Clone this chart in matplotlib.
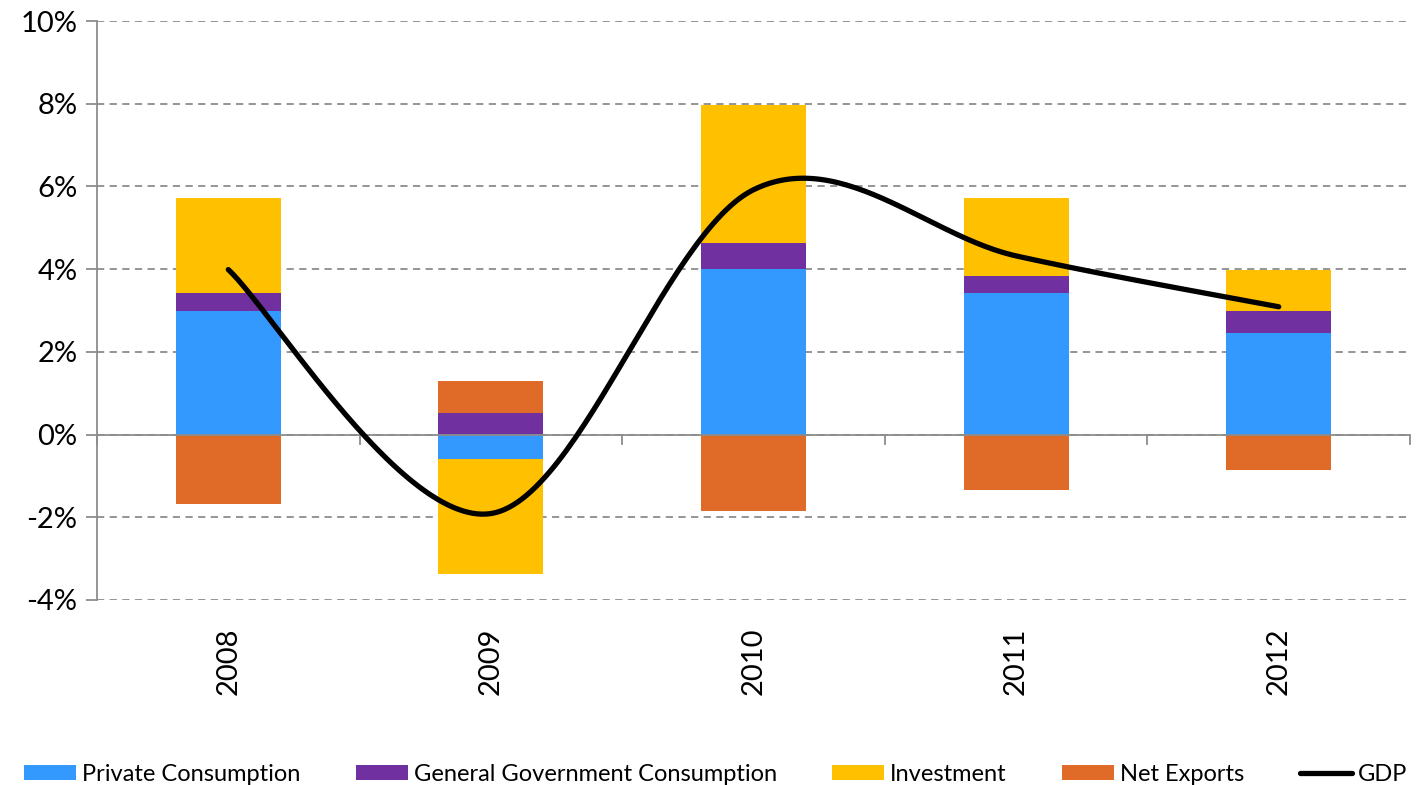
import numpy as np
import matplotlib.pyplot as plt
from matplotlib.ticker import FuncFormatter

plt.rcParams['font.family'] = ['Lato', 'DejaVu Sans']

years = ['2008', '2009', '2010', '2011', '2012']
private = [3.0, -0.58, 4.01, 3.43, 2.46]
government = [0.43, 0.53, 0.63, 0.41, 0.54]
investment = [2.29, -2.78, 3.33, 1.88, 0.99]
net_exports = [-1.67, 0.77, -1.84, -1.33, -0.85]
gdp = [3.99, -1.91, 5.92, 4.32, 3.09]

c_priv = '#3399FF'
c_gov = '#7030A0'
c_inv = '#FFC000'
c_nx = '#E06A27'

fig = plt.figure(figsize=(14.17, 7.85), dpi=100)
ax = fig.add_axes([97 / 1417, 1 - 600 / 785, 1313 / 1417, 579 / 785])

x = np.arange(len(years))
w = 0.4

# stack positives upward and negatives downward from zero
pos = np.zeros(len(years))
neg = np.zeros(len(years))
handles = []
for vals, col, lab in [(private, c_priv, 'Private Consumption'),
                       (government, c_gov, 'General Government Consumption'),
                       (investment, c_inv, 'Investment'),
                       (net_exports, c_nx, 'Net Exports')]:
    vals = np.array(vals)
    base = np.where(vals >= 0, pos, neg)
    b = ax.bar(x, vals, w, bottom=base, color=col, label=lab, zorder=2)
    handles.append(b)
    pos = np.where(vals >= 0, pos + vals, pos)
    neg = np.where(vals < 0, neg + vals, neg)

# smoothed line like Excel (Catmull-Rom style bezier)
def smooth(xs, ys, n=60):
    xs = np.asarray(xs, float)
    ys = np.asarray(ys, float)
    px = np.concatenate([[xs[0]], xs, [xs[-1]]])
    py = np.concatenate([[ys[0]], ys, [ys[-1]]])
    ox, oy = [], []
    t = np.linspace(0, 1, n)
    for i in range(1, len(px) - 2):
        p0 = np.array([px[i], py[i]])
        p3 = np.array([px[i + 1], py[i + 1]])
        p1 = p0 + (p3 - np.array([px[i - 1], py[i - 1]])) / 6
        p2 = p3 - (np.array([px[i + 2], py[i + 2]]) - p0) / 6
        pts = ((1 - t)[:, None] ** 3 * p0 + 3 * ((1 - t) ** 2 * t)[:, None] * p1
               + 3 * ((1 - t) * t ** 2)[:, None] * p2 + (t ** 3)[:, None] * p3)
        ox.extend(pts[:, 0])
        oy.extend(pts[:, 1])
    return ox, oy

sx, sy = smooth(x, gdp)
line, = ax.plot(sx, sy, color='black', lw=3.8, solid_capstyle='round', zorder=4, label='GDP')
handles.append(line)

ax.set_xlim(-0.5, 4.5)
ax.set_ylim(-4, 10)
ax.set_yticks(np.arange(-4, 11, 2))
ax.yaxis.set_major_formatter(FuncFormatter(lambda v, p: f'{v:.0f}%'))
ax.grid(axis='y', color='#8c8c8c', linestyle=(0, (4, 3)), lw=1.3, zorder=0)

for s in ['top', 'right', 'bottom']:
    ax.spines[s].set_visible(False)
ax.spines['left'].set_color('#8c8c8c')
ax.spines['left'].set_linewidth(1.3)
ax.axhline(0, color='#8c8c8c', lw=1.3, zorder=3)
for b in np.arange(-0.5, 4.6, 1):
    ax.plot([b, b], [0, -0.22], color='#8c8c8c', lw=1.3, zorder=3, clip_on=False)

ax.tick_params(axis='y', length=8, color='#8c8c8c', width=1.3, labelsize=21, pad=6)
ax.tick_params(axis='x', length=0, labelsize=21, pad=20)
ax.set_xticks(x)
ax.set_xticklabels(years, rotation=90)

fig.legend(handles=handles, loc='lower center', bbox_to_anchor=(0.505, -0.021), ncol=5,
           frameon=False, fontsize=17, handlelength=2.2, handleheight=0.62,
           handletextpad=0.25, columnspacing=2.35, borderaxespad=0.3)

fig.savefig('out.png', dpi=100)
